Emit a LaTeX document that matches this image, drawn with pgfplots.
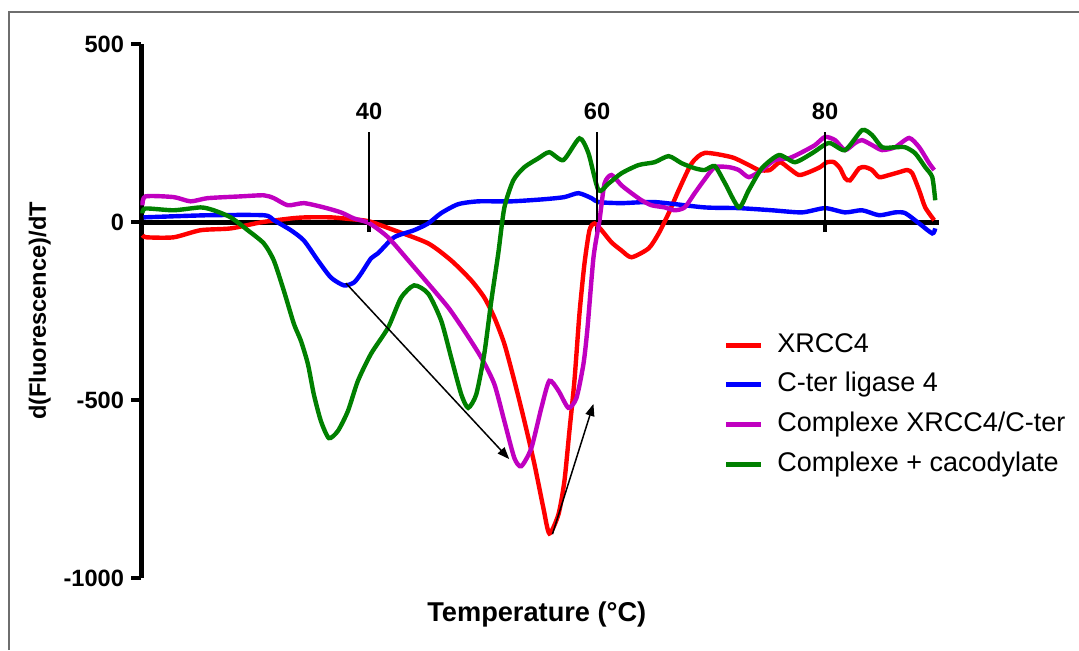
\documentclass[border=0pt]{standalone}
\usepackage{pgfplots}
\pgfplotsset{compat=1.18}
\usepackage{fontspec}
\setmainfont{Liberation Sans}
\usetikzlibrary{arrows.meta}

\definecolor{cRed}{RGB}{255,0,0}
\definecolor{cBlue}{RGB}{0,0,255}
\definecolor{cMag}{RGB}{192,0,192}
\definecolor{cGreen}{RGB}{0,128,0}
\definecolor{frameGray}{RGB}{110,110,110}

\begin{document}
\begin{tikzpicture}
% page = 1079 x 650 px, 1 px = 0.5pt
\path[use as bounding box] (0,0) rectangle (539.5pt,325pt);
\draw[frameGray, line width=0.8pt] (4.5pt,0pt) -- (4.5pt,319pt) -- (539.5pt,319pt);

\begin{axis}[
    at={(70.5pt,36pt)}, anchor=south west,
    scale only axis, width=399pt, height=267pt,
    xmin=20, xmax=90, ymin=-1000, ymax=500,
    axis x line=middle, axis y line=left,
    axis line style={-, line width=2.5pt, black},
    xtick={40,60,80}, ytick={-1000,-500,0,500},
    tick align=outside,
    major tick length=5pt,
    every tick/.style={black, line width=2pt},
    /pgf/number format/assume math mode=true,
    /pgf/number format/1000 sep={},
    tick label style={font=\bfseries\fontsize{11.8}{13}\selectfont},
    xticklabel style={anchor=center, yshift=60.5pt},
    xlabel={Temperature (°C)},
    ylabel={d(Fluorescence)/dT},
    xlabel style={at={(axis description cs:0.496,-0.069)}, anchor=center,
        font=\bfseries\fontsize{13.6}{15}\selectfont},
    ylabel style={at={(axis description cs:-0.127,0.5)}, anchor=center, rotate=0,
        font=\bfseries\fontsize{11.8}{14}\selectfont},
    legend style={draw=none, fill=none, inner sep=0pt, outer sep=0pt,
        at={(axis description cs:0.7302,0.467)}, anchor=north west,
        font=\fontsize{13.5}{15}\selectfont, row sep=3.35pt,
        nodes={inner sep=2pt, text height=9.7pt, text depth=2.8pt}},
    legend cell align=left,
    legend image code/.code={
        \draw[#1, line width=2.5pt] (0pt,0pt) -- (17.5pt,0pt);
        \path (22.5pt,0pt);},
    every axis plot/.append style={line width=2.2pt, smooth, tension=0.4, no marks},
    clip=false,
]

\addplot[cRed] coordinates {
(20.13,-37) (20.5,-43) (22.86,-43) (25.23,-23) (27.87,-18) (30.51,-1)
(33.14,10) (34.46,13) (36.66,13) (38.42,8) (40,2) (42.20,-23) (45.19,-60)
(47.21,-108) (48.97,-164) (50.11,-212) (50.99,-268) (51.87,-342) (52.75,-446)
(53.63,-559) (54.51,-680) (55.30,-804) (55.82,-875) (56.62,-821) (57.14,-728)
(57.58,-587) (58.02,-446) (58.46,-258) (58.90,-117) (59.34,-23) (59.78,-4)
(60.40,-23) (61.27,-57) (62.15,-80)
(63.03,-99) (64.53,-74) (65.41,-32) (66.29,25) (67.16,89) (68.31,165)
(69.45,194) (71.82,182) (73.32,160) (74.20,146) (75.16,146) (76.04,168)
(76.84,151) (77.71,132) (78.59,140) (79.56,154) (80.18,168) (80.79,168)
(81.32,151) (81.76,123) (82.20,117) (82.99,151) (83.52,154) (84.13,146)
(84.75,126) (85.63,132) (86.51,140) (87.21,146) (87.65,137) (88.26,89)
(88.79,41) (89.58,5)
};
\addlegendentry{XRCC4}

\addplot[cBlue] coordinates {
(20.22,13) (25.85,19) (30.77,19) (31.65,5) (33.14,-23) (34.29,-52)
(35.52,-108) (36.66,-156) (37.80,-178) (38.68,-170) (39.30,-145) (40.18,-102)
(40.79,-88) (42.20,-43) (43.96,-23) (45.19,-4) (46.33,25) (47.82,50)
(49.58,58) (52.48,58) (55.38,64) (57.14,70) (58.37,81) (59.52,67)
(60.13,56) (62.15,53) (65.05,56) (69.45,41) (72.44,39) (75.34,33)
(77.98,27) (80.00,39) (81.76,27) (83.25,33) (84.75,19) (86.15,27)
(87.03,25) (88.26,-4) (89.41,-32) (89.67,-18)
};
\addlegendentry{C-ter ligase 4}

\addplot[cMag] coordinates {
(20.13,47) (20.40,72) (22.86,70) (24.35,58) (25.85,67) (28.75,72)
(30.77,75) (31.65,67) (32.88,47) (34.29,53) (36.04,41) (37.54,27)
(38.68,10) (40.00,-3) (41.67,-43) (43.69,-117) (45.19,-173) (46.95,-240)
(48.35,-305) (49.85,-381) (50.99,-455) (51.87,-559) (52.75,-663) (53.36,-686)
(54.24,-635) (55.12,-522) (55.82,-446) (56.62,-474) (57.49,-522) (58.20,-494)
(58.81,-399) (59.16,-300) (59.69,-100) (60.22,5) (60.66,108) (61.27,132)
(62.15,103) (63.03,81) (63.91,61) (64.79,47) (65.93,41) (66.81,33)
(67.69,41) (68.57,81) (69.45,120) (70.33,154) (71.56,154) (72.44,146)
(73.32,126) (74.46,146) (75.60,174) (76.84,179) (77.98,196) (79.12,216)
(80.00,239) (80.88,230) (81.76,202) (82.64,222) (83.25,230) (84.13,216)
(85.01,202) (86.15,210) (87.38,236) (88.26,210) (89.14,165) (89.58,146)
};
\addlegendentry{Complexe XRCC4/C-ter}

\addplot[cGreen] coordinates {
(20.13,24) (20.40,38) (22.86,33) (25.23,41) (26.37,33) (27.87,13)
(29.36,-23) (30.77,-60) (31.65,-108) (32.53,-193) (33.41,-286) (34.02,-333)
(34.64,-399) (35.16,-484) (35.78,-559) (36.48,-607) (37.27,-587) (38.15,-531)
(39.03,-446) (40.18,-370) (41.67,-297) (42.81,-213) (43.96,-178) (45.19,-201)
(46.33,-277) (47.21,-381) (48.09,-484) (48.70,-522) (49.41,-484) (50.11,-371)
(50.73,-221) (51.34,-88) (51.87,40) (52.66,117) (53.63,154) (54.86,179)
(55.82,196) (57.05,174) (58.46,235) (59.25,193) (60.13,89) (61.01,108)
(62.15,137) (63.65,160) (65.05,168) (66.29,185) (67.43,165) (68.57,151)
(69.45,146) (70.33,157) (71.21,110) (72.44,41) (73.32,90) (74.46,151)
(75.96,188) (77.36,168) (78.86,193) (80.35,222) (81.76,202) (83.25,258)
(84.13,244) (85.01,210) (86.15,210) (87.03,210) (87.91,193) (88.79,154)
(89.41,126) (89.67,61)
};
\addlegendentry{Complexe + cacodylate}

% thin guide lines above the x ticks
\draw[black, line width=0.75pt] (axis cs:40,0) -- (axis cs:40,252);
\draw[black, line width=0.75pt] (axis cs:60,0) -- (axis cs:60,252);
\draw[black, line width=0.75pt] (axis cs:80,0) -- (axis cs:80,252);

% arrows
\draw[black, line width=0.75pt, -{Triangle[length=6pt,width=4.5pt]}]
    (axis cs:37.98,-172) -- (axis cs:52.3,-666);
\draw[black, line width=0.75pt, -{Triangle[length=6pt,width=4.5pt]}]
    (axis cs:56.09,-877) -- (axis cs:59.69,-511);
\end{axis}
\end{tikzpicture}
\end{document}
